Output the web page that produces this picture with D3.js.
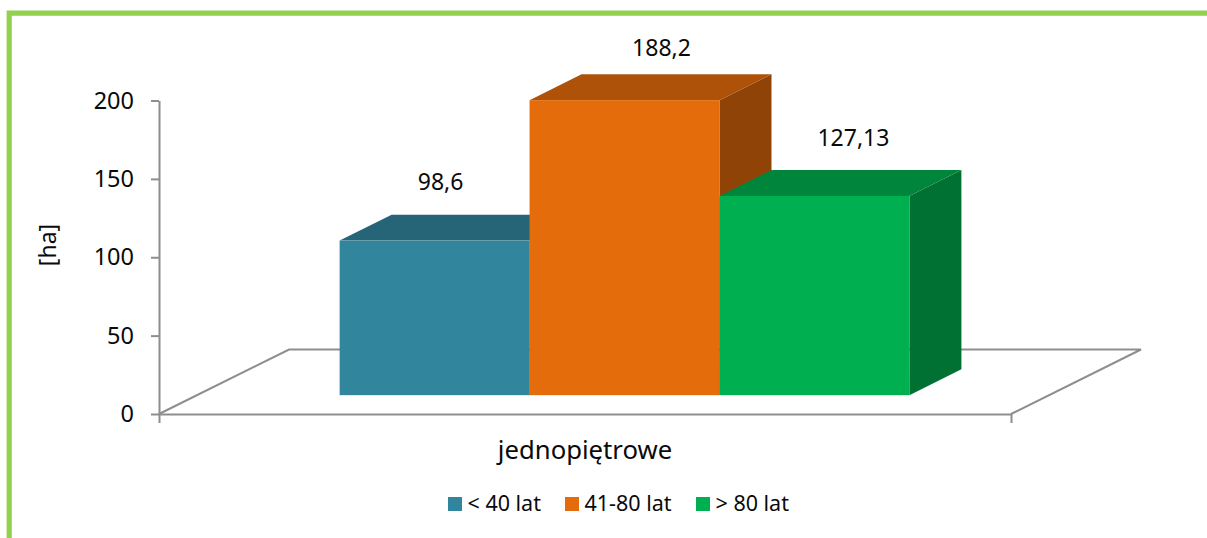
<!DOCTYPE html>
<html>
<head>
<meta charset="utf-8">
<script src="https://cdn.jsdelivr.net/npm/d3@7"></script>
<style>
  html, body { margin: 0; padding: 0; background: #fff; overflow: hidden; }
  text { font-family: "Noto Sans", sans-serif; fill: #0a0a0a; }
  .axis path, .axis line { stroke: #8e8e8e; stroke-width: 2; }
</style>
</head>
<body>
<svg id="chart" width="1207" height="538"></svg>
<script>
const categories = ['jednopiętrowe'];
const seriesNames = ['< 40 lat', '41-80 lat', '> 80 lat'];
const seriesValues = [98.6, 188.2, 127.13];
const yTicks = [0, 50, 100, 150, 200];
const yLabel = '[ha]';

const frontColors = ['#31859C', '#E46C0A', '#00B050'];
const topColors = ['#256577', '#AD5208', '#00853C'];
const sideColors = ['#1F5564', '#8F4306', '#007033'];

// nudges for the value labels, the source places them unevenly
const labelDx = [6, 37, 39];
const labelDy = [-51, -44, -50];

const legendSwatchX = [448, 565, 696];

const svg = d3.select('#chart');

// floor depth in px, bars stand from about 30% to 70% of it
const floorDepth = { x: 130, y: -64.5 };
const barStartX = 0.304;
const barStartY = 0.292;
const barSpan = 0.4;

const x = d3.scaleBand().domain(categories).range([159, 1011]);
const xSeries = d3.scaleBand()
    .domain(seriesNames)
    .range([0, x.bandwidth()])
    .paddingOuter(0.743)
    .paddingInner(0);
const y = d3.scaleLinear().domain([0, 200]).range([414, 100.5]);

// green frame
svg.append('path')
    .attr('d', 'M9.2,538V13.2H1207')
    .attr('fill', 'none')
    .attr('stroke', '#92D050')
    .attr('stroke-width', 5.2);

// floor
const x0 = x.range()[0], x1 = x.range()[1];
svg.append('path')
    .attr('d', d3.line()([
        [x0, y(0)],
        [x0 + floorDepth.x, y(0) + floorDepth.y],
        [x1 + floorDepth.x, y(0) + floorDepth.y],
        [x1, y(0)]
    ]))
    .attr('fill', 'none')
    .attr('stroke', '#8e8e8e')
    .attr('stroke-width', 2);

// axes
const yAxis = svg.append('g')
    .attr('class', 'axis')
    .attr('transform', `translate(${x0},0)`)
    .call(d3.axisLeft(y).tickValues(yTicks).tickSize(8).tickSizeOuter(0).tickPadding(17));
yAxis.selectAll('text').attr('font-size', 23.5).style('font-family', '"Noto Sans", sans-serif');

const xAxis = svg.append('g')
    .attr('class', 'axis')
    .attr('transform', `translate(0,${y(0)})`)
    .call(d3.axisBottom(x).tickSize(0).tickSizeOuter(9).tickPadding(27));
xAxis.selectAll('text').attr('font-size', 25.7).style('font-family', '"Noto Sans", sans-serif');

svg.append('text')
    .attr('transform', 'translate(56,245) rotate(-90)')
    .attr('text-anchor', 'middle')
    .attr('font-size', 23)
    .text(yLabel);

// bars, drawn left to right so the neighbours overlap the way they do in 3d
const barOffX = floorDepth.x * barStartX;
const barOffY = floorDepth.y * barStartY;
const dx = floorDepth.x * barSpan;
const dy = floorDepth.y * barSpan;

const bars = svg.append('g').selectAll('g')
    .data(seriesValues)
    .join('g');

function barBox(d, i) {
    const left = x(categories[0]) + xSeries(seriesNames[i]) + barOffX;
    return {
        left: left,
        right: left + xSeries.bandwidth(),
        top: y(d) + barOffY,
        bottom: y(0) + barOffY
    };
}

bars.append('path')
    .attr('fill', (d, i) => sideColors[i])
    .attr('d', (d, i) => {
        const b = barBox(d, i);
        return d3.line()([[b.right, b.top], [b.right + dx, b.top + dy], [b.right + dx, b.bottom + dy], [b.right, b.bottom]]) + 'Z';
    });

bars.append('path')
    .attr('fill', (d, i) => topColors[i])
    .attr('d', (d, i) => {
        const b = barBox(d, i);
        return d3.line()([[b.left, b.top], [b.left + dx, b.top + dy], [b.right + dx, b.top + dy], [b.right, b.top]]) + 'Z';
    });

bars.append('rect')
    .attr('fill', (d, i) => frontColors[i])
    .attr('x', (d, i) => barBox(d, i).left)
    .attr('y', (d, i) => barBox(d, i).top)
    .attr('width', xSeries.bandwidth())
    .attr('height', (d, i) => barBox(d, i).bottom - barBox(d, i).top);

// value labels
svg.append('g').selectAll('text')
    .data(seriesValues)
    .join('text')
    .attr('text-anchor', 'middle')
    .attr('font-size', 23)
    .attr('x', (d, i) => (barBox(d, i).left + barBox(d, i).right) / 2 + labelDx[i])
    .attr('y', (d, i) => barBox(d, i).top + labelDy[i])
    .text(d => String(d).replace('.', ','));

// legend
const legend = svg.append('g').selectAll('g')
    .data(seriesNames)
    .join('g')
    .attr('transform', (d, i) => `translate(${legendSwatchX[i]},497)`);

legend.append('rect')
    .attr('width', 14)
    .attr('height', 14)
    .attr('fill', (d, i) => frontColors[i]);

legend.append('text')
    .attr('x', 19.5)
    .attr('y', 14)
    .attr('font-size', 21.5)
    .text(d => d);
</script>
</body>
</html>
